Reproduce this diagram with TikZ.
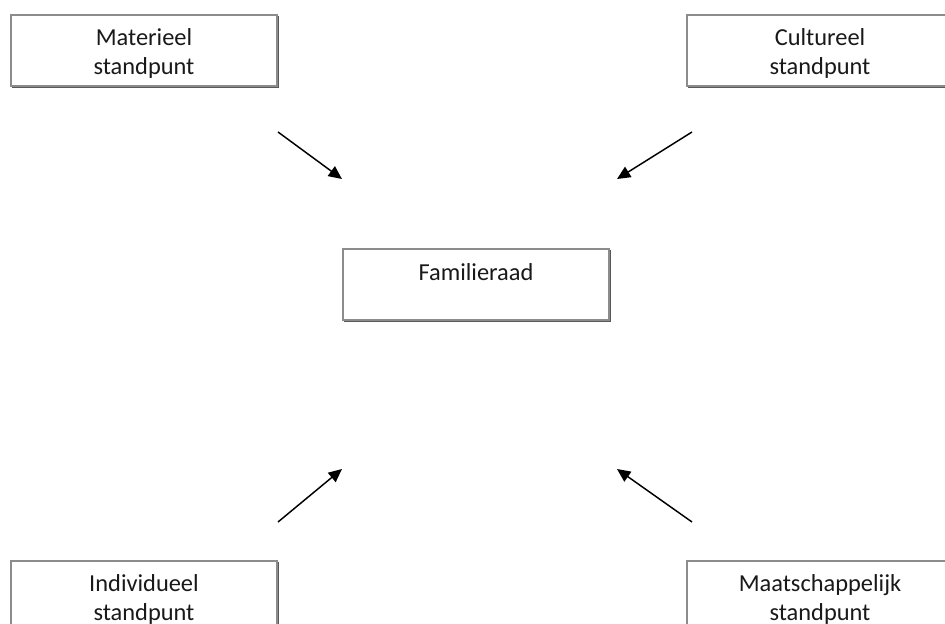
\documentclass[tikz,border=0pt]{standalone}
\usepackage{fontspec}
\setmainfont{Carlito}
\usetikzlibrary{arrows.meta}
\begin{document}
\begin{tikzpicture}[x=0.75pt,y=-0.75pt,
  box/.style={draw=black!45, line width=0.9pt, fill=white, minimum width=266*0.75pt, minimum height=71*0.75pt,
    inner sep=0pt},
  txt/.style={inner sep=0pt, align=center, font=\fontsize{18.3}{21.75}\selectfont, text=black!90},
  shad/.style={draw=black!65, line width=1.4pt},
  arr/.style={line width=1.1pt, -{Triangle[length=10pt,width=9pt]}}]
\useasboundingbox (0,0) rectangle (945,624);
\clip (0,0) rectangle (945,624);
\foreach \n/\x/\y in {mat/144/50.5, cul/820/50.5, fam/476/284.5, ind/144/596.5, maa/820/596.5}{
  \draw[shad] (\x-132,\y+36.5) -- (\x+134.5,\y+36.5) -- (\x+134.5,\y-34.5);
  \node[box] (\n) at (\x,\y) {};
}
\node[txt] (matt) at ([yshift=-2.2pt]mat.center) {Materieel\\standpunt};
\node[txt] (cult) at ([yshift=-2.2pt]cul.center) {Cultureel\\standpunt};
\node[txt] (famt) at ([yshift=9.2pt]fam.center) {Familieraad};
\node[txt] (indt) at ([yshift=-2.2pt]ind.center) {Individueel\\standpunt};
\node[txt] (maat) at ([yshift=-2.2pt]maa.center) {Maatschappelijk\\standpunt};
\coordinate (a1s) at (278,132); \coordinate (a1e) at (342,179);
\coordinate (a2s) at (692,132); \coordinate (a2e) at (617,179);
\coordinate (a3s) at (278,522); \coordinate (a3e) at (342,469);
\coordinate (a4s) at (692,522); \coordinate (a4e) at (617,469);
\draw[arr] (a1s) -- (a1e);
\draw[arr] (a2s) -- (a2e);
\draw[arr] (a3s) -- (a3e);
\draw[arr] (a4s) -- (a4e);
\end{tikzpicture}
\end{document}
